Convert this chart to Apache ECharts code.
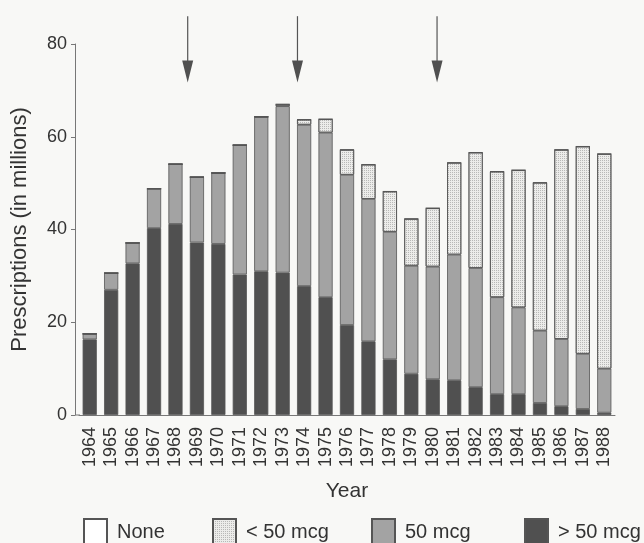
<!DOCTYPE html>
<html>
<head>
<meta charset="utf-8">
<script src="https://cdn.jsdelivr.net/npm/echarts@6/dist/echarts.min.js"></script>
<style>
html,body{margin:0;padding:0;background:#f8f8f6;}
#c{width:644px;height:543px;}
</style>
</head>
<body>
<div id="c"></div>
<script>
var years = ['1964','1965','1966','1967','1968','1969','1970','1971','1972','1973','1974','1975','1976','1977','1978','1979','1980','1981','1982','1983','1984','1985','1986','1987','1988'];
var over50 = [16.3,27.0,32.7,40.3,41.2,37.2,36.9,30.3,31.0,30.7,27.8,25.4,19.4,15.9,12.0,8.9,7.7,7.5,6.0,4.5,4.5,2.6,1.9,1.3,0.5];
var mcg50 = [1.2,3.6,4.4,8.5,12.9,14.1,15.3,27.9,33.3,35.9,34.8,35.5,32.4,30.7,27.5,23.3,24.3,27.1,25.7,20.9,18.7,15.6,14.5,11.9,9.5];
var under50 = [0,0,0,0,0,0,0,0,0,0.4,1.1,2.9,5.4,7.4,8.7,10.1,12.6,19.8,24.9,27.1,29.6,31.9,40.8,44.7,46.3];
var none = [0,0,0,0,0,0,0,0,0,0,0,0,0,0,0,0,0,0,0,0,0,0,0,0,0];
var yTicks = [0,20,40,60,80];
var arrowYears = [1968.57, 1973.69, 1980.2];
var arrowTopValue = 86, arrowTipValue = 71.7;

var FONT = '"Liberation Sans", Arial, sans-serif';
var chart = echarts.init(document.getElementById('c'), null, {renderer:'canvas'});
var border = {borderColor:'#555', borderWidth:0.8};

function legendAt(name, left){
  return {
    data:[name], left:left, top:513, itemWidth:23, itemHeight:27,
    icon:'rect',
    textStyle:{fontFamily:FONT, fontSize:20, color:'#333', padding:[0,0,0,5]}
  };
}

var option = {
  backgroundColor:'#f8f8f6',
  animation:false,
  grid:{left:79, right:29, top:44, bottom:128},
  legend:[legendAt('None',78), legendAt('< 50 mcg',207), legendAt('50 mcg',366), legendAt('> 50 mcg',519)],
  xAxis:{
    type:'category', data:years,
    name:'Year', nameLocation:'middle', nameGap:66,
    nameTextStyle:{fontFamily:FONT, fontSize:21, color:'#333'},
    axisLine:{lineStyle:{color:'#777', width:1}},
    axisTick:{alignWithLabel:true, length:5, lineStyle:{color:'#777'}},
    axisLabel:{rotate:90, margin:12, fontFamily:FONT, fontSize:18, color:'#333', interval:0}
  },
  yAxis:{
    type:'value', min:yTicks[0], max:yTicks[yTicks.length-1], interval:20, offset:4,
    name:'Prescriptions (in millions)', nameLocation:'middle', nameGap:44,
    nameTextStyle:{fontFamily:FONT, fontSize:22, color:'#333'},
    axisLine:{show:true, lineStyle:{color:'#777', width:1}},
    axisTick:{show:true, length:4, lineStyle:{color:'#777'}},
    axisLabel:{margin:8, fontFamily:FONT, fontSize:18, color:'#333'},
    splitLine:{show:false}
  },
  series:[
    {name:'> 50 mcg', type:'bar', stack:'t', barWidth:'66%', data:over50,
      itemStyle:Object.assign({color:'#505050'}, border)},
    {name:'50 mcg', type:'bar', stack:'t', data:mcg50,
      itemStyle:Object.assign({color:'#a3a3a3'}, border)},
    {name:'< 50 mcg', type:'bar', stack:'t', data:under50,
      itemStyle:Object.assign({color:'#ececea',
        decal:{symbol:'rect', symbolSize:1, dashArrayX:[1,1], dashArrayY:[1,1], color:'rgba(90,90,90,0.35)'}}, border)},
    {name:'None', type:'bar', stack:'t', data:none,
      itemStyle:Object.assign({color:'#ffffff'}, border)}
  ]
};
chart.setOption(option);

function drawArrows(){
  var els = [];
  var o = chart.convertToPixel({yAxisIndex:0}, 0);
  els.push({type:'line', shape:{x1:75, y1:o, x2:80, y2:o}, style:{stroke:'#777', lineWidth:1}});
  arrowYears.forEach(function(yr){
    var i0 = Math.floor(yr) - parseInt(years[0],10);
    var f = yr - Math.floor(yr);
    var x0 = chart.convertToPixel({xAxisIndex:0}, years[i0]);
    var x1 = chart.convertToPixel({xAxisIndex:0}, years[i0+1]);
    var x = x0 + (x1 - x0) * f;
    var yTop = chart.convertToPixel({yAxisIndex:0}, arrowTopValue);
    var yTip = chart.convertToPixel({yAxisIndex:0}, arrowTipValue);
    els.push({type:'line', shape:{x1:x, y1:yTop, x2:x, y2:yTip-18}, style:{stroke:'#555', lineWidth:1.2}});
    els.push({type:'polygon', shape:{points:[[x-5.5,yTip-22],[x+5.5,yTip-22],[x,yTip]]}, style:{fill:'#505050'}});
  });
  chart.setOption({graphic:els});
}
drawArrows();
</script>
</body>
</html>
